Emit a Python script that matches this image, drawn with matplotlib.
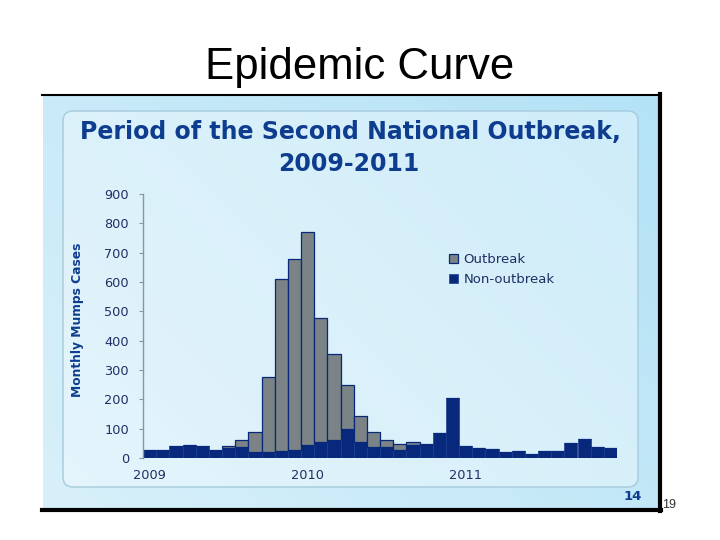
import numpy as np
import matplotlib.pyplot as plt
import matplotlib.transforms as mtransforms
from matplotlib.colors import LinearSegmentedColormap
from matplotlib.patches import FancyBboxPatch

# 月度病例数，2009年1月 - 2011年12月
months = np.arange(36)
non_outbreak = [28, 28, 40, 43, 40, 28, 33, 36, 21, 21, 25, 28,
                43, 56, 63, 98, 56, 36, 36, 27, 43, 48, 86, 206,
                40, 33, 30, 20, 23, 12, 23, 23, 50, 64, 36, 33]
outbreak = [0, 0, 0, 0, 0, 0, 9, 27, 69, 255, 586, 650,
            726, 421, 290, 152, 88, 53, 26, 20, 12, 0, 0, 0,
            0, 0, 0, 0, 0, 0, 0, 0, 0, 0, 0, 0]
year_ticks = [0, 12, 24]
year_labels = ['2009', '2010', '2011']
case_ticks = list(range(0, 901, 100))

NAVY = '#08287c'
GREY = '#7b8386'
TEXT = '#1f3064'
TITLE = '#0e3d8f'

fig = plt.figure(figsize=(7.2, 5.4), dpi=100)
fig.patch.set_facecolor('white')

# 背景层（像素坐标）
bg = fig.add_axes([0, 0, 1, 1])
bg.set_xlim(0, 720)
bg.set_ylim(540, 0)
bg.axis('off')

yy, xx = np.mgrid[0:1:200j, 0:1:200j]
grad = 0.6 * xx + 0.4 * (1 - yy)
cmap = LinearSegmentedColormap.from_list('bgblue', ['#d8f0fa', '#c6e9f8', '#b3e2f6'])
bg.imshow(grad, extent=[43, 659, 509, 94], cmap=cmap, aspect='auto', zorder=0)

panel = FancyBboxPatch((63, 111), 575, 376, boxstyle='round,pad=0,rounding_size=10',
                       facecolor='white', alpha=0.35, edgecolor='none', zorder=1)
bg.add_patch(panel)
panel_edge = FancyBboxPatch((63, 111), 575, 376, boxstyle='round,pad=0,rounding_size=10',
                            facecolor='none', edgecolor='#a6cadb', lw=1.0, zorder=2)
bg.add_patch(panel_edge)

# 图片边框
bg.plot([42, 660], [94.5, 94.5], color='black', lw=1.5, zorder=3)
bg.plot([659.5, 659.5], [94, 511], color='black', lw=3, zorder=3)
bg.plot([42, 661], [509.5, 509.5], color='black', lw=3, zorder=3)

fig.text(360 / 720, 1 - 68 / 540, 'Epidemic Curve', ha='center', va='center',
         fontsize=31.5, family='Liberation Sans', color='black')
fig.text(669 / 720, 1 - 505 / 540, '19', ha='center', va='center',
         fontsize=9, family='Liberation Sans', color='#333333')
fig.text(633 / 720, 1 - 497 / 540, '14', ha='center', va='center',
         fontsize=9.5, fontweight='bold', color=TITLE)

fig.text(350 / 720, 1 - 132 / 540, 'Period of the Second National Outbreak,',
         ha='center', va='center', fontsize=17, fontweight='bold', color=TITLE)
fig.text(349 / 720, 1 - 164 / 540, '2009-2011',
         ha='center', va='center', fontsize=17, fontweight='bold', color=TITLE)
fig.text(77 / 720, 1 - 320 / 540, 'Monthly Mumps Cases', rotation=90,
         ha='center', va='center', fontsize=8.8, fontweight='bold', color=TITLE)

# 柱状图
ax = fig.add_axes([143 / 720, 1 - 458 / 540, 474 / 720, 264 / 540])
ax.patch.set_alpha(0)
b_non = ax.bar(months, non_outbreak, width=1, align='edge', color=NAVY,
               edgecolor='#1b3d8e', linewidth=0.5, zorder=2)
b_out = ax.bar(months, outbreak, bottom=non_outbreak, width=1, align='edge',
               color=GREY, edgecolor=NAVY, linewidth=0.9, zorder=2)
ax.set_xlim(0, 36)
ax.set_ylim(0, 900)

for side in ['top', 'right', 'bottom']:
    ax.spines[side].set_visible(False)
ax.spines['left'].set_color('#8a96a8')
ax.spines['left'].set_linewidth(1.0)

ax.set_yticks(case_ticks)
ax.tick_params(axis='y', direction='out', length=3, color='#8a96a8',
               labelsize=9.3, labelcolor=TEXT, pad=7)
ax.set_xticks(year_ticks)
ax.set_xticklabels(year_labels)
ax.tick_params(axis='x', length=0, labelsize=9.3, labelcolor=TEXT, pad=8)
offset = mtransforms.ScaledTranslation(6 / 100, 0, fig.dpi_scale_trans)
for lbl in ax.get_xticklabels():
    lbl.set_transform(lbl.get_transform() + offset)

ax.legend([b_out, b_non], ['Outbreak', 'Non-outbreak'], loc='upper left',
          bbox_to_anchor=(449 / 720, 1 - 253 / 540), bbox_transform=fig.transFigure,
          frameon=False, fontsize=9.5, labelcolor=TEXT, handlelength=0.65,
          handleheight=0.65, handletextpad=0.45, labelspacing=0.55, borderpad=0,
          borderaxespad=0)

fig.savefig('out.png', dpi=100)
